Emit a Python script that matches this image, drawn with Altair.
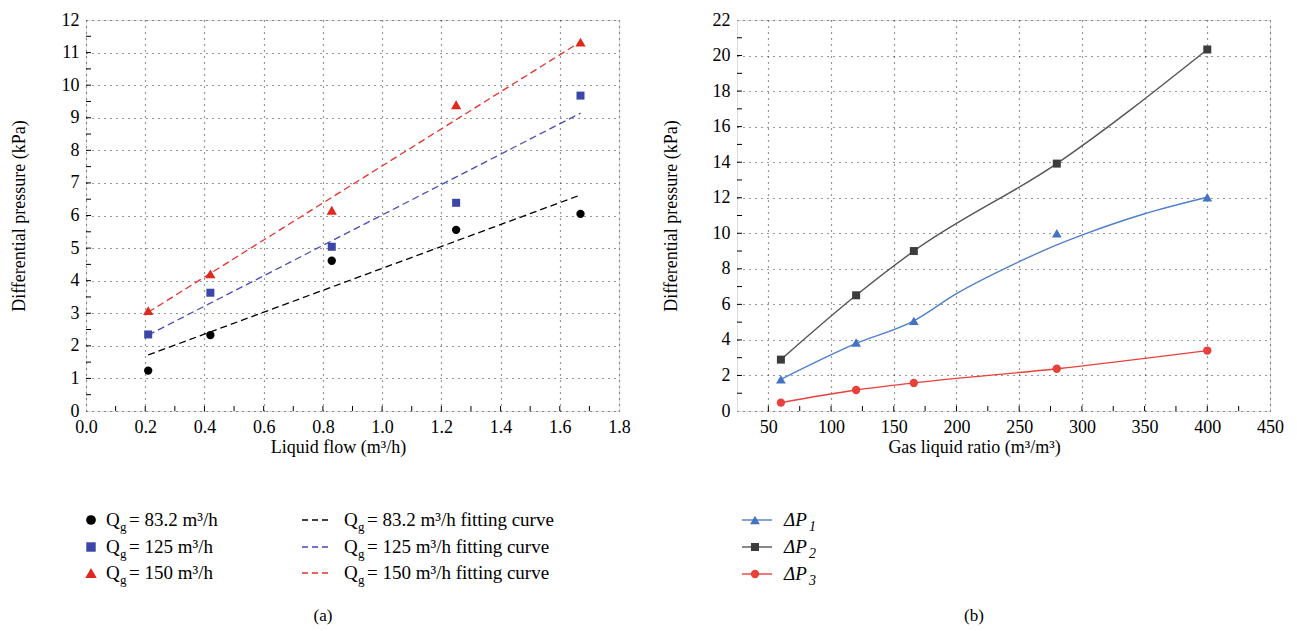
import altair as alt
import pandas as pd

SERIF = "Liberation Serif"
FS = 18
LFS = 19

# ---------------- data (a) ----------------
liquid_flow = [0.21, 0.42, 0.83, 1.25, 1.67]
dp_q83 = [1.24, 2.33, 4.61, 5.56, 6.05]
dp_q125 = [2.35, 3.63, 5.04, 6.39, 9.68]
dp_q150 = [3.08, 4.21, 6.16, 9.40, 11.32]
fit_x = [0.21, 1.67]
fit_q83 = [1.72, 6.63]
fit_q125 = [2.33, 9.14]
fit_q150 = [3.03, 11.33]
qg_labels = ["83.2", "125", "150"]

a_x_ticks = [0.0, 0.2, 0.4, 0.6, 0.8, 1.0, 1.2, 1.4, 1.6, 1.8]
a_x_minor = [0.1, 0.2, 0.3, 0.4, 0.5, 0.6, 0.7, 0.8, 0.9, 1.0, 1.1, 1.2, 1.3, 1.4, 1.5, 1.6, 1.7]
a_y_ticks = [0, 1, 2, 3, 4, 5, 6, 7, 8, 9, 10, 11, 12]
a_y_minor = [0.5, 1, 1.5, 2, 2.5, 3, 3.5, 4, 4.5, 5, 5.5, 6, 6.5, 7, 7.5, 8, 8.5, 9, 9.5, 10, 10.5, 11, 11.5]

# ---------------- data (b) ----------------
gas_liquid_ratio = [60, 120, 166, 280, 400]
dp1 = [1.78, 3.85, 5.07, 10.0, 12.03]
dp2 = [2.89, 6.51, 9.0, 13.92, 20.34]
dp3 = [0.47, 1.18, 1.58, 2.38, 3.40]
dp1_curve_x = [60, 120, 166, 200, 250, 280, 300, 350, 400]
dp1_curve_y = [1.78, 3.80, 5.07, 6.60, 8.40, 9.35, 9.90, 11.10, 12.03]

b_x_ticks = [50, 100, 150, 200, 250, 300, 350, 400, 450]
b_x_minor = [50, 75, 100, 125, 150, 175, 200, 225, 250, 275, 300, 325, 350, 375, 400, 425]
b_y_ticks = [0, 2, 4, 6, 8, 10, 12, 14, 16, 18, 20, 22]
b_y_minor = [1, 2, 3, 4, 5, 6, 7, 8, 9, 10, 11, 12, 13, 14, 15, 16, 17, 18, 19, 20, 21]

W, H = 533, 391

A_COLORS = ["#000000", "#3c46a8", "#e0281c"]
A_FIT_COLORS = ["#000000", "#4a4ab8", "#e8302a"]
A_SHAPES = ["circle", "square", "triangle-up"]
A_SIZES = [70, 64, 105]

B_NAMES = ["1", "2", "3"]
B_MARK_COLORS = ["#4472c4", "#3c3c3c", "#e8403a"]
B_LINE_COLORS = ["#4f7fd0", "#555555", "#e8403a"]
B_SHAPES = ["triangle-up", "square", "circle"]
B_SIZES = [95, 64, 70]


def one(text=""):
    return pd.DataFrame({"t": [text]})


def text_at(x, y, s, size=LFS, dy=0, italic=False, align="left"):
    kw = dict(font=SERIF, fontSize=size, align=align, baseline="middle", color="black", dy=dy)
    if italic:
        kw["fontStyle"] = "italic"
    return alt.Chart(one(s)).mark_text(**kw).encode(x=alt.value(x), y=alt.value(y), text="t:N")


def axis_common(**kw):
    base = dict(grid=True, gridDash=[1, 5], gridColor="#333333", gridWidth=1.2, gridOpacity=1,
                ticks=False, domain=False, labelFont=SERIF, labelFontSize=FS, labelColor="black",
                labelFlush=False, labelOverlap=False,
                titleFont=SERIF, titleFontSize=FS, titleFontWeight="normal", titleColor="black",
                labelPadding=7)
    base.update(kw)
    return alt.Axis(**base)


def make_panel(xscale, yscale, xaxis, yaxis, xminor, yminor):
    def X():
        return alt.X("x:Q", scale=xscale, axis=xaxis)

    def Y():
        return alt.Y("y:Q", scale=yscale, axis=yaxis)

    layers = []
    layers.append(alt.Chart(pd.DataFrame({"x": xminor})).mark_rule(color="black", strokeWidth=1).encode(
        x=X(), y=alt.value(H), y2=alt.value(H - 5)))
    layers.append(alt.Chart(pd.DataFrame({"y": yminor})).mark_rule(color="black", strokeWidth=1).encode(
        y=Y(), x=alt.value(0), x2=alt.value(5)))
    return X, Y, layers


# ---------------- panel (a) ----------------
ax_scale = alt.Scale(domain=[0, 1.8], nice=False, zero=False)
ay_scale = alt.Scale(domain=[0, 12], nice=False)

a_axis_x = axis_common(values=a_x_ticks, format=".1f", title="Liquid flow (m³/h)",
                       titleX=252, titleY=36, titleBaseline="middle", titleAlign="center")
a_axis_y = axis_common(values=a_y_ticks, format="d", title="Differential pressure (kPa)",
                       titleX=-67, titleY=H / 2, titleAngle=-90, titleBaseline="middle",
                       titleAlign="center")

AX, AY, a_layers = make_panel(ax_scale, ay_scale, a_axis_x, a_axis_y, a_x_minor, a_y_minor)

series_a = [dp_q83, dp_q125, dp_q150]
fits_a = [fit_q83, fit_q125, fit_q150]
for i in range(3):
    df_fit = pd.DataFrame({"x": fit_x, "y": fits_a[i]})
    a_layers.append(alt.Chart(df_fit).mark_line(color=A_FIT_COLORS[i], strokeWidth=1.3,
                                                strokeDash=[7, 4]).encode(x=AX(), y=AY()))
for i in range(3):
    df_pts = pd.DataFrame({"x": liquid_flow, "y": series_a[i]})
    a_layers.append(alt.Chart(df_pts).mark_point(shape=A_SHAPES[i], filled=True, opacity=1,
                                                 color=A_COLORS[i], size=A_SIZES[i]).encode(x=AX(), y=AY()))

# legend (a)
rows_a = [500, 527, 553]
for i in range(3):
    y = rows_a[i]
    a_layers.append(alt.Chart(one()).mark_point(shape=A_SHAPES[i], filled=True, opacity=1,
                                                color=A_COLORS[i], size=A_SIZES[i] + 25).encode(
        x=alt.value(5), y=alt.value(y)))
    a_layers.append(text_at(20, y, "Q"))
    a_layers.append(text_at(34, y, "g", size=13, dy=7))
    a_layers.append(text_at(43, y, f"= {qg_labels[i]} m³/h"))
    a_layers.append(alt.Chart(one()).mark_rule(color=A_FIT_COLORS[i], strokeWidth=1.3,
                                               strokeDash=[6, 4]).encode(
        x=alt.value(216), x2=alt.value(244), y=alt.value(y)))
    a_layers.append(text_at(258, y, "Q"))
    a_layers.append(text_at(272, y, "g", size=13, dy=7))
    a_layers.append(text_at(281, y, f"= {qg_labels[i]} m³/h fitting curve"))
a_layers.append(text_at(237, 596, "(a)", align="center", size=17))

panel_a = alt.layer(*a_layers).properties(width=W, height=H)

# ---------------- panel (b) ----------------
bx_scale = alt.Scale(domain=[25, 450], nice=False, zero=False)
by_scale = alt.Scale(domain=[0, 22], nice=False)

b_axis_x = axis_common(values=b_x_ticks, format="d", title="Gas liquid ratio (m³/m³)",
                       titleX=237, titleY=36, titleBaseline="middle", titleAlign="center")
b_axis_y = axis_common(values=b_y_ticks, format="d", title="Differential pressure (kPa)",
                       titleX=-66, titleY=H / 2, titleAngle=-90, titleBaseline="middle",
                       titleAlign="center")

BX, BY, b_layers = make_panel(bx_scale, by_scale, b_axis_x, b_axis_y, b_x_minor, b_y_minor)

series_b = [dp1, dp2, dp3]
curves_b = [(dp1_curve_x, dp1_curve_y), (gas_liquid_ratio, dp2), (gas_liquid_ratio, dp3)]
for i in range(3):
    cx, cy = curves_b[i]
    b_layers.append(alt.Chart(pd.DataFrame({"x": cx, "y": cy})).mark_line(
        color=B_LINE_COLORS[i], strokeWidth=1.4, interpolate="monotone").encode(x=BX(), y=BY()))
for i in range(3):
    b_layers.append(alt.Chart(pd.DataFrame({"x": gas_liquid_ratio, "y": series_b[i]})).mark_point(
        shape=B_SHAPES[i], filled=True, opacity=1, color=B_MARK_COLORS[i], size=B_SIZES[i]).encode(
        x=BX(), y=BY()))

rows_b = [500, 527, 554]
for i in range(3):
    y = rows_b[i]
    b_layers.append(alt.Chart(one()).mark_rule(color=B_LINE_COLORS[i], strokeWidth=1.4).encode(
        x=alt.value(5), x2=alt.value(35), y=alt.value(y)))
    b_layers.append(alt.Chart(one()).mark_point(shape=B_SHAPES[i], filled=True, opacity=1,
                                                color=B_MARK_COLORS[i], size=B_SIZES[i]).encode(
        x=alt.value(18), y=alt.value(y)))
    b_layers.append(text_at(47, y, "ΔP", italic=True))
    b_layers.append(text_at(72, y, B_NAMES[i], size=14, dy=7, italic=True))
b_layers.append(text_at(237, 596, "(b)", align="center", size=17))

panel_b = alt.layer(*b_layers).properties(width=W, height=H)

chart = alt.hconcat(panel_a, panel_b, spacing=30).properties(
    padding={"left": 9, "top": 10, "right": 5, "bottom": 5}
).configure_view(stroke="black", strokeWidth=1.5).configure(background="white")

chart.save("out.html", embed_options={"renderer": "svg", "actions": False})
